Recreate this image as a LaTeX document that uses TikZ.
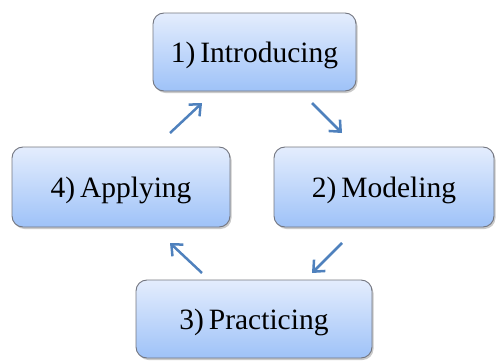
\documentclass[tikz,border=0pt]{standalone}
\usepackage{fontspec}
\setmainfont{Liberation Serif}
\usetikzlibrary{arrows.meta,shadows}
\definecolor{arrowblue}{RGB}{79,129,189}
\definecolor{boxtop}{RGB}{228,237,253}
\definecolor{boxbot}{RGB}{158,194,248}
\definecolor{boxline}{RGB}{115,118,128}
\newcommand{\lowtext}[1]{\raisebox{-3pt}[\height][\depth]{#1}}
\tikzset{
  stagebox/.style={draw=boxline, line width=0.9pt, rounded corners=11pt,
    top color=boxtop, bottom color=boxbot,
    drop shadow={shadow xshift=1.5pt, shadow yshift=-2pt, opacity=0.35, fill=black!60},
    font=\fontsize{29.5}{33}\selectfont, inner sep=0pt, align=center},
  cyclearrow/.style={draw=arrowblue, line width=2.5pt,
    -{Straight Barb[length=9pt,width=16pt,line width=2.5pt]}}
}
\begin{document}
\begin{tikzpicture}[x=1pt,y=1pt]
\useasboundingbox (0,0) rectangle (496,360);
\node[stagebox, minimum width=203pt, minimum height=78pt] (intro) at (254.5,308) {\lowtext{1)\,Introducing}};
\node[stagebox, minimum width=220pt, minimum height=80pt] (model) at (384,173) {\lowtext{2)\,Modeling}};
\node[stagebox, minimum width=236pt, minimum height=78pt] (pract) at (254,41) {\lowtext{3)\,Practicing}};
\node[stagebox, minimum width=218pt, minimum height=80pt] (apply) at (121,173) {\lowtext{4)\,Applying}};
\coordinate (a1s) at (170,227); \coordinate (a1e) at (202,257);
\coordinate (a2s) at (312,257); \coordinate (a2e) at (342,227);
\coordinate (a3s) at (342,117); \coordinate (a3e) at (312,87);
\coordinate (a4s) at (202,87);  \coordinate (a4e) at (170,117);
\draw[cyclearrow] (a1s) -- (a1e);
\draw[cyclearrow] (a2s) -- (a2e);
\draw[cyclearrow] (a3s) -- (a3e);
\draw[cyclearrow] (a4s) -- (a4e);
\end{tikzpicture}
\end{document}
